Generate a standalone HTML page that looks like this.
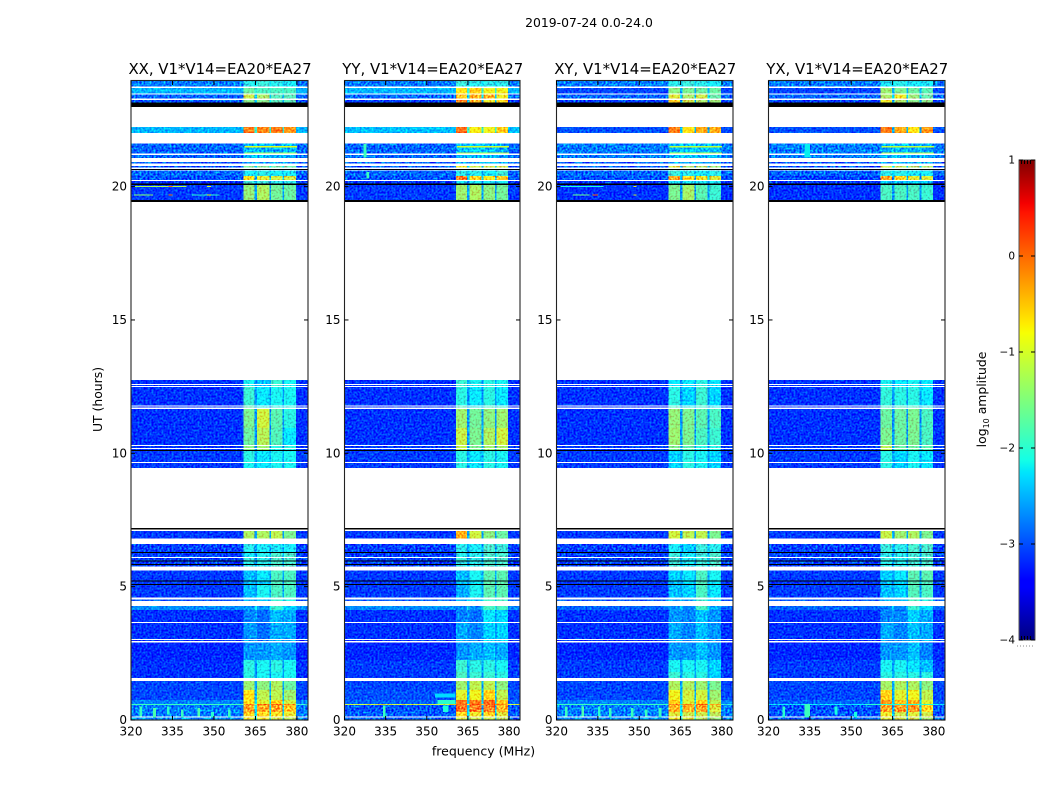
<!DOCTYPE html>
<html lang="en">
<head>
<meta charset="utf-8">
<title>2019-07-24 0.0-24.0</title>
<style>
html,body{margin:0;padding:0;background:#fff;width:1050px;height:800px;overflow:hidden}
svg{display:block}
text{font-family:"DejaVu Sans","Liberation Sans",sans-serif;fill:#000}
</style>
</head>
<body>
<svg id="fig" xmlns="http://www.w3.org/2000/svg" width="1050" height="800" viewBox="0 0 1050 800">
  <defs>
    <filter id="grain" filterUnits="objectBoundingBox" x="0" y="0" width="1" height="1" color-interpolation-filters="sRGB">
      <feTurbulence type="fractalNoise" baseFrequency="0.5" numOctaves="1" seed="4" result="n"/>
      <feColorMatrix in="n" type="matrix" values="0 0 0 0 0.5  2.2 0 0 0 -0.66  0.9 0 0 0 0.2  0 0 0 0 1" result="m"/>
      <feComposite in="SourceGraphic" in2="m" operator="arithmetic" k1="0" k2="1" k3="0.5" k4="-0.25" result="c"/>
      <feComposite in="c" in2="SourceAlpha" operator="in"/>
    </filter>
    <filter id="grainStrong" filterUnits="objectBoundingBox" x="0" y="0" width="1" height="1" color-interpolation-filters="sRGB">
      <feTurbulence type="fractalNoise" baseFrequency="0.5" numOctaves="1" seed="9" result="n"/>
      <feColorMatrix in="n" type="matrix" values="0 0 0 0 0.5  2.4 0 0 0 -0.78  0.9 0 0 0 0.2  0 0 0 0 1" result="m"/>
      <feComposite in="SourceGraphic" in2="m" operator="arithmetic" k1="0" k2="1" k3="0.75" k4="-0.375" result="c"/>
      <feComposite in="c" in2="SourceAlpha" operator="in"/>
    </filter>
    <linearGradient id="jet" x1="0" y1="1" x2="0" y2="0">
      <stop offset="0" stop-color="rgb(0,0,128)"/>
      <stop offset="0.11" stop-color="rgb(0,0,255)"/>
      <stop offset="0.125" stop-color="rgb(0,0,255)"/>
      <stop offset="0.34" stop-color="rgb(0,220,255)"/>
      <stop offset="0.35" stop-color="rgb(0,230,251)"/>
      <stop offset="0.375" stop-color="rgb(20,255,230)"/>
      <stop offset="0.64" stop-color="rgb(247,255,3)"/>
      <stop offset="0.66" stop-color="rgb(255,235,0)"/>
      <stop offset="0.89" stop-color="rgb(255,20,0)"/>
      <stop offset="0.91" stop-color="rgb(244,0,0)"/>
      <stop offset="1" stop-color="rgb(128,0,0)"/>
    </linearGradient>
  </defs>
  <text x="589" y="27" font-size="12.4" text-anchor="middle">2019-07-24 0.0-24.0</text>
  <text x="483.5" y="755.5" font-size="12.5" text-anchor="middle">frequency (MHz)</text>
  <text transform="translate(102,399.5) rotate(-90)" font-size="12.4" text-anchor="middle">UT (hours)</text>
  <g id="panels"></g>
  <g id="colorbar"></g>
  <text transform="translate(986,399.5) rotate(-90)" font-size="12.4" text-anchor="middle">log<tspan font-size="8" dy="3">10</tspan><tspan dy="-3"> amplitude</tspan></text>
</svg>
<script>
// Time axis / frequency axis tick labels
const xTickLabels = [320, 335, 350, 365, 380];
const yTickLabels = [0, 5, 10, 15, 20];
const cbarTickLabels = [1, 0, -1, -2, -3, -4];

// Frequency channel edges in MHz: background, four bright sub-bands with notches, tail
const freqEdges = [320, 360.7, 364.7, 365.6, 370, 370.6, 374.8, 375.4, 379.6, 384];

// Integrations with data: [top UT, bottom UT]. Anything not listed is flagged (white).
const utBands = [
[23.96,23.76],[23.69,23.50],[23.45,23.31],[23.25,23.15],[22.24,22.01],[21.62,21.24],[21.19,21.08],[20.93,20.87],[20.78,20.72],[20.60,20.40],[20.40,20.25],[20.21,20.12],[20.06,19.50],
[12.75,12.60],[12.56,12.53],[12.49,11.80],[11.76,11.71],[11.67,10.95],[10.95,10.31],[10.27,10.20],[10.16,10.13],[10.09,9.68],[9.64,9.45],
[7.09,6.81],[6.60,6.30],[6.27,6.11],[6.08,5.99],[5.96,5.85],[5.81,5.75],
[5.60,5.23],[5.20,5.10],[5.06,4.59],[4.51,4.46],[4.28,4.13],[4.13,3.68],[3.64,3.04],[3.00,2.96],[2.91,2.25],[2.25,1.80],[1.80,1.58],[1.47,1.13],[1.13,0.75],[0.75,0.60],[0.60,0.56],[0.56,0.30],[0.30,0.13],[0.09,0]
];
// Zero-amplitude integrations (black rows): [top UT, bottom UT]
const zeroBands = [[23.15,22.98],[20.66,20.63],[20.12,20.06],[19.50,19.43],[10.13,10.09],[7.20,7.14],[6.30,6.27],[5.99,5.96],[5.85,5.81],[5.23,5.20],[5.10,5.06]];
// Indices of utBands with heavy RFI speckle
const speckleBands = [0,2,3,5,6,7,8,9,10,11,24,25,26,27,28,44,45,46];

// log10 amplitude per band: [background, sub-band 1, sub-band 2, sub-band 3, sub-band 4]
const ampXX = [
[-2.7,-2.0,-1.9,-2.0,-2.1],[-2.45,-1.6,-1.8,-1.8,-1.8],[-2.8,-1.0,-1.2,-1.7,-1.7],[-2.9,-1.4,-1.4,-1.7,-1.7],[-2.45,-0.15,-0.2,-0.15,-0.25],[-2.8,-2.4,-2.4,-2.5,-2.4],[-2.8,-2.4,-2.4,-2.5,-2.5],[-2.9,-2.5,-2.5,-2.5,-2.5],[-2.9,-1.5,-1.5,-1.6,-1.6],[-2.8,-2.1,-2.0,-2.1,-2.1],[-2.9,-0.75,-0.85,-0.95,-0.95],[-3.05,-1.9,-1.9,-2.0,-2.0],[-3.05,-1.35,-1.2,-1.55,-1.6],
[-3.1,-2.1,-2.4,-1.9,-2.1],[-3.1,-2.1,-2.4,-1.9,-2.1],[-3.1,-1.9,-2.2,-2.1,-2.1],[-3.1,-1.7,-2.0,-2.0,-2.0],[-3.1,-1.5,-1.0,-1.7,-2.0],[-3.1,-1.6,-1.15,-1.75,-2.2],[-3.1,-1.4,-1.3,-2.0,-2.0],[-3.1,-1.4,-1.3,-2.0,-2.0],[-3.05,-2.0,-2.2,-2.1,-2.1],[-3.05,-2.1,-2.2,-2.1,-2.1],
[-3.05,-1.2,-1.2,-1.1,-1.5],[-3.0,-2.0,-2.1,-2.1,-2.1],[-3.0,-2.1,-2.0,-1.8,-1.8],[-3.0,-1.9,-2.0,-1.8,-1.8],[-3.0,-2.0,-2.0,-1.8,-1.8],[-3.0,-2.0,-2.0,-1.8,-1.8],
[-3.05,-2.4,-2.2,-1.8,-1.8],[-3.05,-2.4,-2.3,-1.8,-1.8],[-3.05,-2.4,-2.1,-1.8,-1.8],[-2.9,-2.4,-2.4,-1.9,-2.0],[-2.65,-2.6,-2.6,-1.9,-2.3],[-3.1,-2.7,-2.8,-2.4,-2.5],[-3.1,-2.6,-2.8,-2.5,-2.5],[-3.1,-2.6,-2.8,-2.5,-2.5],[-3.15,-2.6,-2.6,-2.5,-2.6],[-3.1,-2.0,-2.1,-2.0,-2.1],[-3.1,-2.0,-2.1,-2.1,-2.1],[-3.0,-1.3,-1.4,-1.2,-1.6],[-3.0,-0.7,-1.1,-1.1,-1.3],[-2.7,-0.7,-0.9,-0.6,-1.0],[-1.9,-0.1,-0.05,0,-0.2],[-2.7,-0.4,-0.45,-0.4,-0.6],[-2.7,-0.7,-0.7,-0.75,-0.85],[-2.6,-0.8,-0.8,-1.0,-1.1]
];
const ampYY = [
[-2.7,-1.9,-2.0,-2.0,-2.0],[-2.45,-0.7,-0.6,-0.8,-0.8],[-2.8,-0.6,-0.5,-0.5,-0.8],[-3.0,-0.3,-0.5,-0.8,-0.7],[-2.4,-0.05,-0.75,-0.8,-0.55],[-2.8,-2.4,-2.3,-2.4,-2.5],[-2.8,-2.5,-2.4,-2.4,-2.5],[-2.9,-2.4,-2.4,-2.4,-2.4],[-2.9,-0.8,-1.0,-1.0,-1.0],[-2.8,-2.0,-2.0,-2.1,-1.9],[-2.9,-0.2,-0.7,-0.75,-0.6],[-3.05,-2.1,-2.1,-2.1,-2.1],[-3.05,-1.3,-1.2,-1.4,-1.55],
[-3.1,-1.9,-2.1,-2.0,-2.1],[-3.1,-1.9,-2.1,-2.0,-2.1],[-3.1,-2.0,-2.2,-2.0,-2.2],[-3.1,-1.8,-2.0,-1.8,-1.9],[-3.1,-1.3,-1.55,-1.4,-1.3],[-3.1,-1.05,-1.5,-1.2,-1.0],[-3.05,-1.1,-1.5,-1.3,-1.3],[-3.05,-1.1,-1.5,-1.3,-1.3],[-3.05,-2.0,-2.2,-2.0,-2.1],[-3.05,-2.0,-2.2,-2.0,-2.1],
[-3.05,-0.4,-1.0,-1.4,-1.6],[-3.0,-2.0,-2.1,-1.8,-1.9],[-3.0,-2.0,-2.0,-1.8,-1.8],[-3.0,-1.9,-2.0,-1.8,-1.8],[-3.0,-2.0,-2.0,-1.8,-1.8],[-3.0,-2.0,-2.0,-1.8,-1.8],
[-3.05,-2.4,-2.1,-1.7,-1.7],[-3.05,-2.4,-2.2,-1.7,-1.7],[-3.05,-2.5,-2.1,-1.7,-1.7],[-2.9,-2.5,-2.4,-1.8,-1.8],[-2.65,-2.7,-2.7,-1.8,-1.8],[-3.1,-2.7,-2.8,-2.2,-2.3],[-3.1,-2.5,-2.7,-2.3,-2.3],[-3.1,-2.5,-2.7,-2.3,-2.3],[-3.15,-2.6,-2.5,-2.4,-2.5],[-3.05,-1.9,-2.0,-2.0,-2.1],[-3.05,-1.8,-1.9,-1.9,-2.0],[-3.0,-1.3,-1.1,-1.1,-1.4],[-2.95,-0.9,-0.8,-0.6,-1.1],[-2.85,-0.1,-0.15,-0.05,-0.5],[-1.0,0.05,0,0,-0.3],[-2.9,-0.15,-0.2,-0.2,-0.5],[-2.85,-0.7,-0.8,-0.7,-0.9],[-2.85,-0.9,-1.0,-1.0,-1.1]
];
const ampXY = [
[-2.7,-2.0,-1.9,-2.0,-2.1],[-3.0,-1.4,-1.5,-1.6,-1.6],[-2.8,-0.9,-1.2,-1.0,-1.6],[-3.0,-0.6,-1.0,-1.2,-1.3],[-2.95,-0.15,-0.7,-0.4,-0.4],[-2.7,-2.4,-2.3,-2.4,-2.4],[-2.7,-2.4,-2.3,-2.4,-2.4],[-2.9,-2.4,-2.5,-2.5,-2.5],[-2.9,-0.9,-1.2,-1.2,-1.3],[-2.8,-1.9,-2.0,-2.1,-2.0],[-2.9,-0.4,-0.7,-0.8,-0.9],[-3.05,-2.1,-2.1,-2.1,-2.1],[-3.1,-1.5,-1.25,-1.7,-1.9],
[-3.1,-2.2,-2.2,-2.0,-2.2],[-3.1,-2.2,-2.2,-2.0,-2.2],[-3.1,-2.0,-2.3,-1.9,-2.3],[-3.1,-1.8,-2.0,-1.9,-2.1],[-3.1,-1.35,-1.5,-1.7,-1.8],[-3.1,-1.3,-1.5,-1.8,-1.9],[-3.05,-1.5,-1.7,-2.0,-2.0],[-3.05,-1.5,-1.7,-2.0,-2.0],[-3.05,-2.3,-2.0,-2.1,-2.3],[-3.05,-2.3,-2.0,-2.1,-2.3],
[-3.05,-1.0,-1.1,-1.1,-1.5],[-3.0,-2.1,-2.3,-1.9,-2.0],[-3.0,-1.9,-2.1,-1.9,-1.8],[-3.0,-1.9,-2.1,-1.9,-1.8],[-3.0,-1.9,-2.1,-1.9,-1.8],[-3.0,-1.9,-2.1,-1.9,-1.8],
[-3.05,-2.3,-2.2,-1.8,-2.1],[-3.05,-2.4,-2.3,-1.8,-2.2],[-3.05,-2.4,-2.3,-1.8,-2.2],[-2.9,-2.5,-2.5,-1.9,-2.3],[-2.85,-2.6,-2.7,-1.8,-2.5],[-3.1,-2.6,-2.7,-2.4,-2.6],[-3.1,-2.5,-2.7,-2.4,-2.6],[-3.1,-2.5,-2.7,-2.4,-2.6],[-3.15,-2.6,-2.6,-2.4,-2.6],[-3.05,-2.1,-2.1,-2.1,-2.3],[-3.05,-1.9,-2.0,-2.0,-2.3],[-3.0,-1.2,-1.2,-1.3,-1.5],[-3.0,-0.8,-1.0,-1.0,-1.3],[-2.7,-0.6,-0.9,-0.6,-1.1],[-2.0,-0.05,-0.2,-0.05,-0.3],[-2.7,-0.5,-0.5,-0.4,-0.9],[-2.7,-0.9,-1.0,-1.0,-1.1],[-2.6,-0.8,-0.9,-1.1,-1.3]
];
const ampYX = [
[-2.7,-2.1,-2.0,-2.1,-2.1],[-3.0,-1.3,-1.5,-1.6,-1.7],[-2.8,-1.2,-0.8,-1.3,-1.6],[-3.0,-0.8,-1.2,-1.4,-1.4],[-2.95,-0.15,-0.4,-0.7,-0.3],[-2.7,-2.5,-2.4,-2.5,-2.5],[-2.7,-2.5,-2.4,-2.5,-2.5],[-2.9,-2.5,-2.5,-2.5,-2.5],[-2.9,-1.0,-1.1,-1.2,-1.2],[-2.8,-2.0,-2.0,-2.1,-2.1],[-3.0,-0.4,-0.7,-0.85,-0.9],[-3.05,-2.3,-2.3,-2.3,-2.3],[-3.1,-1.8,-1.8,-1.8,-1.9],
[-3.1,-2.1,-2.2,-2.1,-2.2],[-3.1,-2.1,-2.2,-2.1,-2.2],[-3.1,-1.95,-2.0,-2.0,-2.2],[-3.1,-1.8,-1.8,-1.8,-2.0],[-3.1,-1.6,-1.6,-1.5,-1.8],[-3.1,-1.5,-1.6,-1.5,-1.8],[-3.05,-1.1,-1.6,-1.6,-1.7],[-3.05,-1.1,-1.6,-1.6,-1.7],[-3.05,-2.0,-2.3,-2.1,-2.2],[-3.05,-2.0,-2.3,-2.1,-2.2],
[-3.05,-1.05,-1.3,-1.2,-1.5],[-3.0,-1.9,-2.0,-1.8,-1.8],[-3.0,-2.0,-2.0,-1.85,-1.8],[-3.0,-1.9,-2.0,-1.85,-1.8],[-3.0,-2.0,-2.0,-1.85,-1.8],[-3.0,-2.0,-2.0,-1.85,-1.8],
[-3.05,-2.3,-2.2,-1.7,-1.7],[-3.05,-2.4,-2.3,-1.75,-1.8],[-3.05,-2.4,-2.3,-1.75,-1.8],[-2.9,-2.5,-2.5,-1.8,-2.0],[-2.85,-2.7,-2.7,-1.9,-2.2],[-3.1,-2.7,-2.7,-2.3,-2.5],[-3.1,-2.5,-2.7,-2.4,-2.5],[-3.1,-2.5,-2.7,-2.4,-2.5],[-3.15,-2.6,-2.6,-2.4,-2.7],[-3.05,-2.1,-2.1,-2.2,-2.4],[-3.05,-2.0,-2.0,-2.0,-2.0],[-3.0,-1.25,-1.2,-1.2,-1.4],[-3.0,-0.6,-0.9,-0.8,-1.1],[-2.85,-0.3,-0.5,-0.45,-0.9],[-2.2,-0.1,-0.1,-0.1,-0.3],[-2.9,-0.4,-0.35,-0.35,-0.7],[-2.9,-0.8,-1.0,-0.9,-1.0],[-2.85,-0.9,-1.0,-1.0,-1.2]
];

// Narrow RFI features: [freq start, freq end, top UT, bottom UT, log10 amplitude]
const rfiXX = [
[321,340,20.03,19.99,-1.2],[333.5,335,20.03,19.99,0],[321,328,19.71,19.67,-1.4],[342,352,19.71,19.67,-2],[333.5,335,19.71,19.67,0.1],[347.5,349,20.03,19.99,-0.9],[347.5,349,19.71,19.67,-0.8],
[361,380,21.52,21.47,-0.9],[361,380,21.28,21.24,-1.3],[320,360,0.60,0.56,-1.9],
[323,324,0.5,0.14,-1.9],[328,329,0.45,0.1,-1.8],[333,334,0.5,0.2,-2],[338,339,0.4,0.1,-1.9],[344,345,0.45,0.14,-1.8],[349,350,0.3,0.1,-2],[355,356,0.4,0.1,-1.9]
];
const rfiYY = [
[361,380,21.52,21.47,-1.0],[361,380,21.28,21.24,-1.2],[327,328,21.6,21.1,-1.9],[328,329,20.55,20.3,-1.9],
[353,360.4,1.0,0.85,-2.3],[354,360.4,0.75,0.6,-2.0],[334,335,0.55,0.1,-1.9],[356,358,0.55,0.3,-2.1]
];
const rfiXY = [
[321,337,20.03,19.99,-2.1],[326,332,19.71,19.67,-1.6],[333,335,19.71,19.67,0.05],[348,349,19.71,19.67,-1],[348,349,20.03,19.99,-1],
[361,380,21.52,21.47,-1.1],[361,380,21.28,21.24,-1.2],[320,360,0.60,0.56,-1.9],
[323,324,0.5,0.14,-1.9],[329,330,0.5,0.14,-1.8],[335,336,0.5,0.14,-2],[339,340,0.45,0.1,-1.9],[347,348,0.45,0.1,-1.9],[352,353,0.4,0.14,-1.9],[357,358,0.45,0.1,-1.9]
];
const rfiYX = [
[361,380,21.52,21.47,-1.1],[361,380,21.28,21.24,-1.2],[333,335,21.6,21.1,-2.2],[333,335,0.6,0.1,-1.9],[325,326,0.5,0.1,-2],[344,345,0.5,0.2,-2.1],[351,352,0.3,0.1,-2.1],[355,380,0.60,0.56,-2.0]
];

// Panel definitions
const panelTitles = ["XX, V1*V14=EA20*EA27", "YY, V1*V14=EA20*EA27", "XY, V1*V14=EA20*EA27", "YX, V1*V14=EA20*EA27"];
const panelNames = ["xx", "yy", "xy", "yx"];
const panelAmps = [ampXX, ampYY, ampXY, ampYX];
const panelRfi = [rfiXX, rfiYY, rfiXY, rfiYX];

const NS = "http://www.w3.org/2000/svg";
const frames = [
  { left: 131, right: 308 },
  { left: 344.5, right: 520 },
  { left: 556.5, right: 733 },
  { left: 768.5, right: 945 }
];
const plotTop = 81, plotBottom = 720;
const xMin = 320, xMax = 384, yMin = 0, yMax = 23.96;
const vMin = -4, vMax = 1;

function make(tag, attrs) {
  const e = document.createElementNS(NS, tag);
  for (const k in attrs) e.setAttribute(k, attrs[k]);
  return e;
}
function yScale(ut) { return plotBottom - (ut - yMin) / (yMax - yMin) * (plotBottom - plotTop); }
function xScaleFor(frame) { return f => frame.left + (f - xMin) / (xMax - xMin) * (frame.right - frame.left); }
function piece(t, pts) {
  for (let i = 1; i < pts.length; i++) {
    if (t <= pts[i][0]) {
      const a = pts[i - 1], b = pts[i];
      return a[1] + (t - a[0]) / (b[0] - a[0]) * (b[1] - a[1]);
    }
  }
  return pts[pts.length - 1][1];
}
function jet(v) {
  const t = Math.max(0, Math.min(1, (v - vMin) / (vMax - vMin)));
  const r = piece(t, [[0, 0], [0.35, 0], [0.66, 1], [0.89, 1], [1, 0.5]]);
  const g = piece(t, [[0, 0], [0.125, 0], [0.375, 1], [0.64, 1], [0.91, 0], [1, 0]]);
  const b = piece(t, [[0, 0.5], [0.11, 1], [0.34, 1], [0.65, 0], [1, 0]]);
  return "rgb(" + Math.round(r * 255) + "," + Math.round(g * 255) + "," + Math.round(b * 255) + ")";
}

const panelsRoot = document.getElementById("panels");

panelTitles.forEach(function (title, p) {
  const frame = frames[p];
  const xs = xScaleFor(frame);
  const amps = panelAmps[p];
  const panel = make("g", {});
  
  
  panelsRoot.appendChild(panel);

  const calm = make("g", { filter: "url(#grain)", "shape-rendering": "crispEdges" });
  
  
  const loud = make("g", { filter: "url(#grainStrong)", "shape-rendering": "crispEdges" });
  
  
  panel.appendChild(calm);
  panel.appendChild(loud);

  utBands.forEach(function (band, r) {
    const vals = amps[r];
    const rowValues = [vals[0], vals[1], vals[0] + 0.5, vals[2], vals[0] + 0.5, vals[3], vals[0] + 0.5, vals[4], vals[0]];
    rowValues.forEach(function (v, c) {
      const x0 = xs(freqEdges[c]), x1 = xs(freqEdges[c + 1]);
      const y0 = yScale(band[0]), y1 = yScale(band[1]);
      const cell = make("rect", { x: x0, y: y0, width: x1 - x0, height: y1 - y0, fill: jet(v) });
      
      
      (speckleBands.indexOf(r) >= 0 ? loud : calm).appendChild(cell);
    });
  });

  panelRfi[p].forEach(function (s) {
    const x0 = xs(s[0]), x1 = xs(s[1]), y0 = yScale(s[2]), y1 = yScale(s[3]);
    const mark = make("rect", { x: x0, y: y0, width: x1 - x0, height: Math.max(1, y1 - y0), fill: jet(s[4]), "shape-rendering": "crispEdges" });
    
    
    panel.appendChild(mark);
  });

  zeroBands.forEach(function (z) {
    const y0 = yScale(z[0]), y1 = yScale(z[1]);
    const bar = make("rect", { x: frame.left, y: y0, width: frame.right - frame.left, height: Math.max(1, y1 - y0), fill: "#000", "shape-rendering": "crispEdges" });
    
    
    panel.appendChild(bar);
  });

  const spine = make("rect", { x: frame.left, y: plotTop - 0.5, width: frame.right - frame.left, height: plotBottom - plotTop + 0.5, fill: "none", stroke: "#222", "stroke-width": 1.1 });
  
  
  panel.appendChild(spine);

  xTickLabels.forEach(function (t) {
    const x = xs(t);
    const bottomTick = make("line", { x1: x, x2: x, y1: plotBottom, y2: plotBottom - 4, stroke: "#000", "stroke-width": 1 });
    
    
    panel.appendChild(bottomTick);
    const topTick = make("line", { x1: x, x2: x, y1: plotTop, y2: plotTop + 4, stroke: "#000", "stroke-width": 1 });
    
    
    panel.appendChild(topTick);
    const label = make("text", { x: x, y: 735.5, "font-size": 12, "text-anchor": "middle" });
    label.textContent = t;
    
    
    panel.appendChild(label);
  });

  yTickLabels.forEach(function (t) {
    const y = yScale(t);
    const leftTick = make("line", { x1: frame.left, x2: frame.left + 4, y1: y, y2: y, stroke: "#000", "stroke-width": 1 });
    
    
    panel.appendChild(leftTick);
    const rightTick = make("line", { x1: frame.right, x2: frame.right - 4, y1: y, y2: y, stroke: "#000", "stroke-width": 1 });
    
    
    panel.appendChild(rightTick);
    const label = make("text", { x: frame.left - 4, y: y + 4, "font-size": 12, "text-anchor": "end" });
    label.textContent = t;
    
    
    panel.appendChild(label);
  });

  const titleEl = make("text", { x: (frame.left + frame.right) / 2 + 0.5, y: 74, "font-size": 14.9, "text-anchor": "middle" });
  titleEl.textContent = title;
  
  
  panel.appendChild(titleEl);
});

// Colorbar
const cb = document.getElementById("colorbar");
const cbLeft = 1019, cbRight = 1035, cbTop = 160, cbBottom = 640;
function cbY(v) { return cbBottom - (v - vMin) / (vMax - vMin) * (cbBottom - cbTop); }

const cbFill = make("rect", { x: cbLeft, y: cbTop, width: cbRight - cbLeft, height: cbBottom - cbTop, fill: "url(#jet)", stroke: "#555", "stroke-width": 1 });


cb.appendChild(cbFill);

cbarTickLabels.forEach(function (t) {
  const y = cbY(t);
  const tickL = make("line", { x1: cbLeft, x2: cbLeft + 4, y1: y, y2: y, stroke: "#000", "stroke-width": 1 });
  
  
  cb.appendChild(tickL);
  const tickR = make("line", { x1: cbRight, x2: cbRight - 4, y1: y, y2: y, stroke: "#000", "stroke-width": 1 });
  
  
  cb.appendChild(tickR);
  const label = make("text", { x: cbLeft - 4, y: y + 3.5, "font-size": 10.5, "text-anchor": "end" });
  label.textContent = String(t).replace("-", "\u2212");
  
  
  cb.appendChild(label);
});

const cbEdgeTop = make("line", { x1: cbLeft + 2, x2: cbRight - 2, y1: cbTop + 2, y2: cbTop + 2, stroke: "#000", "stroke-width": 4, "stroke-dasharray": "1 2" });


cb.appendChild(cbEdgeTop);
const cbEdgeBottom = make("line", { x1: cbLeft + 2, x2: cbRight - 2, y1: cbBottom - 2, y2: cbBottom - 2, stroke: "#000", "stroke-width": 4, "stroke-dasharray": "1 2" });


cb.appendChild(cbEdgeBottom);
const cbDots = make("line", { x1: 1017, x2: 1035, y1: 646, y2: 646, stroke: "#888", "stroke-width": 1, "stroke-dasharray": "1 2" });


cb.appendChild(cbDots);
</script>
</body>
</html>
